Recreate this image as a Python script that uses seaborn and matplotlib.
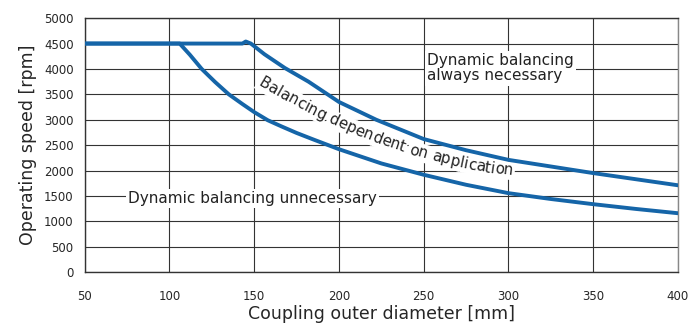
import matplotlib
matplotlib.use("Agg")
import matplotlib.pyplot as plt
import seaborn as sns
import pandas as pd
import numpy as np

# Upper boundary: dynamic balancing always necessary above this curve
upper_d = [50, 100, 143, 145, 148, 156, 168, 182, 200, 222, 250, 275, 300, 325, 350, 375, 400]
upper_n = [4500, 4500, 4500, 4540, 4500, 4290, 4020, 3750, 3350, 3000, 2620, 2400, 2210, 2080, 1950, 1830, 1710]

# Lower boundary: dynamic balancing unnecessary below this curve
lower_d = [50, 100, 106, 112, 119, 127, 135, 143, 150, 158, 166, 175, 185, 200, 225, 250, 275, 300, 325, 350, 375, 400]
lower_n = [4500, 4500, 4500, 4280, 4000, 3740, 3500, 3310, 3150, 2990, 2870, 2740, 2610, 2420, 2140, 1917, 1720, 1555, 1440, 1338, 1245, 1160]

x_ticks = [50, 100, 150, 200, 250, 300, 350, 400]
y_ticks = [0, 500, 1000, 1500, 2000, 2500, 3000, 3500, 4000, 4500, 5000]

band_label = "Balancing dependent on application"
# baseline path of the curved band label (data coordinates)
label_path_x = [152, 171, 192, 215, 240, 254, 277, 303]
label_path_y = [3680, 3340, 2985, 2610, 2350, 2210, 2035, 1895]

sns.set_style("white")
plt.rcParams["font.family"] = ["DejaVu Sans"]

df = pd.concat([
    pd.DataFrame({"d": upper_d, "n": upper_n, "curve": "upper"}),
    pd.DataFrame({"d": lower_d, "n": lower_n, "curve": "lower"}),
])

fig = plt.figure(figsize=(6.89, 3.24), dpi=100)
ax = fig.add_axes([0.123, 0.160, 0.861, 0.784])

sns.lineplot(data=df, x="d", y="n", units="curve", estimator=None, sort=False,
             color="#1565a8", linewidth=2.8, ax=ax, legend=False, zorder=3)

ax.set_xlim(50, 400)
ax.set_ylim(0, 5000)
ax.set_xticks(x_ticks)
ax.set_yticks(y_ticks)
ax.set_xticklabels([str(v) for v in x_ticks], fontsize=8.5)
ax.set_yticklabels([str(v) for v in y_ticks], fontsize=8.5)
ax.grid(True, color="#333333", linewidth=0.8)
ax.set_axisbelow(True)
for s in ax.spines.values():
    s.set_color("#333333")
    s.set_linewidth(1.0)
ax.spines["right"].set_color("#888888")
ax.tick_params(axis="y", direction="out", length=4, width=0.8, color="#333333", pad=4)
ax.tick_params(axis="x", direction="out", length=4, width=0.8, color="#333333", pad=9)

ax.set_xlabel("Coupling outer diameter [mm]", fontsize=12.5, labelpad=1)
ax.set_ylabel("Operating speed [rpm]", fontsize=12.5, labelpad=5)

box = dict(facecolor="white", edgecolor="none", pad=1.5)
ax.text(252, 4010, "Dynamic balancing\nalways necessary", fontsize=11, ha="left",
        va="center", linespacing=1.0, bbox=box, color="#222222", zorder=2)
ax.text(149, 1450, "Dynamic balancing unnecessary", fontsize=11, ha="center",
        va="center", bbox=box, color="#222222", zorder=2)

# ---- curved label placed character by character along the band ----
from matplotlib.font_manager import FontProperties
fs = 10.8
prop = FontProperties(family="DejaVu Sans", size=fs)
renderer = fig.canvas.get_renderer()

pts = ax.transData.transform(np.column_stack([label_path_x, label_path_y]))
px, py = pts[:, 0], pts[:, 1]
coef = np.polyfit(px, py, 3)
xx = np.linspace(px[0] - 5, px[-1] + 30, 2000)
yy = np.polyval(coef, xx)
seg = np.hypot(np.diff(xx), np.diff(yy))
arc = np.concatenate([[0], np.cumsum(seg)])
start_arc = np.interp(px[0], xx, arc)

def width(s):
    if not s:
        return 0.0
    w, h, d = renderer.get_text_width_height_descent(s, prop, ismath=False)
    return w

inv = ax.transData.inverted()
for i, ch in enumerate(band_label):
    if ch == " ":
        continue
    w0 = width(band_label[:i])
    w1 = width(band_label[:i + 1])
    s_mid = start_arc + (w0 + w1) / 2.0
    xm = np.interp(s_mid, arc, xx)
    ym = np.polyval(coef, xm)
    slope = np.polyval(np.polyder(coef), xm)
    ang = np.degrees(np.arctan(slope))
    dx, dy = inv.transform((xm, ym))
    for layer in (0, 1):
        kw = dict(fontproperties=prop, ha="center", va="baseline",
                  rotation=ang, rotation_mode="anchor")
        if layer == 0:
            ax.text(dx, dy, ch, color=(1, 1, 1, 0), zorder=1.9,
                    bbox=dict(facecolor="white", edgecolor="none", pad=1.2), **kw)
        else:
            ax.text(dx, dy, ch, color="#222222", zorder=2.0, **kw)

fig.savefig("out.png", dpi=100)
